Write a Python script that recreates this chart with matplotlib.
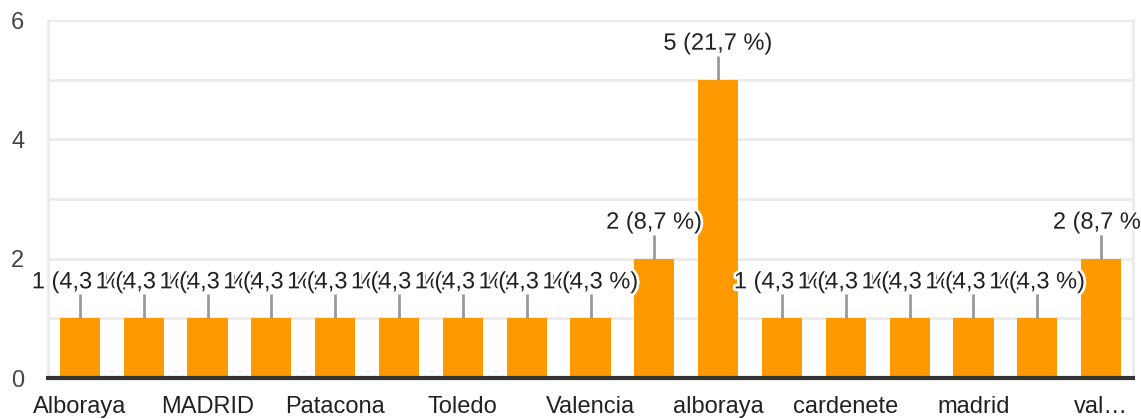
import matplotlib
matplotlib.use("Agg")
import matplotlib.pyplot as plt
import matplotlib.patheffects as pe

categories = ["Alboraya", "Burjassot", "MADRID", "Madrid", "Patacona", "Sevilla",
              "Toledo", "Torrent", "Valencia", "València", "alboraya", "barcelona",
              "cardenete", "cuenca", "madrid", "patacona", "valencia"]
counts = [1, 1, 1, 1, 1, 1, 1, 1, 1, 2, 5, 1, 1, 1, 1, 1, 2]
percents = ["4,3", "4,3", "4,3", "4,3", "4,3", "4,3", "4,3", "4,3", "4,3", "8,7",
            "21,7", "4,3", "4,3", "4,3", "4,3", "4,3", "8,7"]
yticks = [0, 2, 4, 6]

plt.rcParams['font.family'] = ['Liberation Sans', 'DejaVu Sans']

W, H = 1141, 419
fig = plt.figure(figsize=(W / 100, H / 100), dpi=100)
ax = fig.add_axes([48 / W, 41 / H, (1133 - 48) / W, (378 - 20) / H])

x = list(range(len(categories)))
ax.bar(x, counts, width=0.63, color="#ff9900", zorder=2)
ax.set_xlim(-0.5, len(categories) - 0.5)
ax.set_ylim(0, 6)

for v in range(1, 7):
    ax.axhline(v, color="#ebebeb", lw=2, zorder=0)

ax.set_yticks(yticks)
ax.set_yticklabels([str(t) for t in yticks], fontsize=17, color="#444444")
ax.tick_params(axis='y', length=0, pad=17)

display = [c if i % 2 == 0 else "" for i, c in enumerate(categories)]
display[16] = categories[16][:3] + "…"
ax.set_xticks(x)
ax.set_xticklabels(display, fontsize=17, color="#222222")
ax.tick_params(axis='x', length=0, pad=13)

ax.spines["top"].set_visible(False)
for s in ["left", "right"]:
    ax.spines[s].set_color("#ebebeb")
    ax.spines[s].set_linewidth(2)
ax.spines["bottom"].set_color("#333333")
ax.spines["bottom"].set_linewidth(3)
ax.spines["bottom"].set_zorder(3)

ppu = (378 - 20) / 6.0
for i, (c, p) in enumerate(zip(counts, percents)):
    stem = 24 / ppu
    ax.plot([i, i], [c, c + stem], color="#999999", lw=2, zorder=3, solid_capstyle='butt')
    ax.text(i, c + 36 / ppu, f"{c} ({p} %)", ha="center", va="center",
            fontsize=17, color="#222222", zorder=4, clip_on=False,
            path_effects=[pe.withStroke(linewidth=4, foreground="white")])

fig.savefig("out.png", dpi=100)
